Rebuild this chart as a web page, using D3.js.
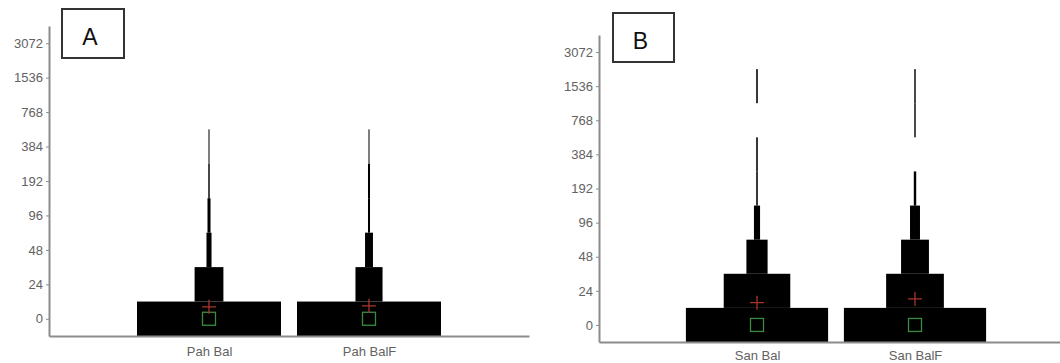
<!DOCTYPE html>
<html>
<head>
<meta charset="utf-8">
<script src="https://cdn.jsdelivr.net/npm/d3@7"></script>
<style>
  html, body { margin: 0; padding: 0; background: #fff; }
  svg { display: block; font-family: "Liberation Sans", Arial, sans-serif; }
</style>
</head>
<body>
<svg id="chart" width="1060" height="363"></svg>
<script>
// bin labels on the y axis (each bin is one band)
const tickValues = [0, 24, 48, 96, 192, 384, 768, 1536, 3072];

// panel A
const categoriesA = ["Pah Bal", "Pah BalF"];
const pahBalCounts = [1000, 200, 35, 21, 10, 7];
const pahBalFCounts = [1000, 188, 55, 14, 14, 7];
const meansA = [8.3, 9];
const mediansA = [0, 0];

// panel B
const categoriesB = ["San Bal", "San BalF"];
const sanBalCounts = [1000, 468, 149, 43, 11, 11, 0, 11];
const sanBalFCounts = [1000, 406, 196, 70, 17, 0, 10, 10];
const meansB = [15.7, 18.3];
const mediansB = [0, 0];

const svg = d3.select("#chart");

function drawPanel({ label, box, xRange, yRange, categories, counts, means, medians, labelPad }) {
  const g = svg.append("g");

  const x = d3.scaleLinear().domain([0, 3]).range(xRange);
  const yIndex = d3.scaleLinear().domain([-0.5, 8.5]).range(yRange);
  const yValue = d3.scaleLinear()
    .domain(tickValues)
    .range(tickValues.map((_, i) => yIndex(i)));

  const slot = x(1) - x(0);
  const maxCount = d3.max(counts.flat());
  const w = d3.scaleLinear().domain([0, maxCount]).range([0, 0.9 * slot]);

  // bins
  counts.forEach((series, ci) => {
    g.append("g")
      .selectAll("rect")
      .data(series.map((c, i) => ({ c, i })).filter((d) => d.c > 0))
      .join("rect")
      .attr("x", (d) => x(ci + 1) - w(d.c) / 2)
      .attr("width", (d) => w(d.c))
      .attr("y", (d) => yIndex(d.i + 0.5))
      .attr("height", (d) => yIndex(d.i - 0.5) - yIndex(d.i + 0.5))
      .attr("fill", "#000");
  });

  // medians (green squares)
  g.append("g")
    .selectAll("rect")
    .data(medians)
    .join("rect")
    .attr("x", (d, i) => x(i + 1) - 6.5)
    .attr("y", (d) => yValue(d) - 6.5)
    .attr("width", 13)
    .attr("height", 13)
    .attr("fill", "none")
    .attr("stroke", "#3a8a42")
    .attr("stroke-width", 1.3);

  // means (red plus)
  g.append("g")
    .selectAll("path")
    .data(means)
    .join("path")
    .attr("d", (d, i) => {
      const cx = x(i + 1), cy = yValue(d), r = 7;
      return `M${cx - r},${cy}H${cx + r}M${cx},${cy - r}V${cy + r}`;
    })
    .attr("stroke", "#a8352a")
    .attr("stroke-width", 1.3)
    .attr("fill", "none");

  // y axis
  const gy = g.append("g")
    .attr("transform", `translate(${xRange[0]},0)`)
    .call(d3.axisLeft(yIndex)
      .tickValues(d3.range(tickValues.length))
      .tickFormat((i) => tickValues[i])
      .tickSize(3)
      .tickSizeOuter(0)
      .tickPadding(3));

  // x axis
  const gx = g.append("g")
    .attr("transform", `translate(0,${yRange[0]})`)
    .call(d3.axisBottom(x)
      .tickValues([1, 2])
      .tickFormat((i) => categories[i - 1])
      .tickSize(0)
      .tickSizeOuter(0)
      .tickPadding(labelPad));

  [gx, gy].forEach((ax) => {
    ax.select(".domain").attr("stroke", "#8c8c8c").attr("stroke-width", 2);
    ax.selectAll(".tick line").attr("stroke", "#8c8c8c");
    ax.selectAll("text")
      .attr("fill", "#626262")
      .style("font-family", "'Liberation Sans', Arial, sans-serif")
      .style("font-size", "13px");
  });

  // panel label box
  g.append("rect")
    .attr("x", box.x)
    .attr("y", box.y)
    .attr("width", box.w)
    .attr("height", box.h)
    .attr("fill", "#fff")
    .attr("stroke", "#333")
    .attr("stroke-width", 2);

  g.append("text")
    .attr("x", box.x + box.w / 2 - 3)
    .attr("y", box.y + box.h - 13)
    .attr("text-anchor", "middle")
    .attr("fill", "#111")
    .style("font-size", "23px")
    .text(label);
}

drawPanel({
  label: "A",
  box: { x: 62, y: 9, w: 62, h: 49 },
  xRange: [49, 529],
  yRange: [336, 26],
  categories: categoriesA,
  counts: [pahBalCounts, pahBalFCounts],
  means: meansA,
  medians: mediansA,
  labelPad: 11,
});

drawPanel({
  label: "B",
  box: { x: 613, y: 13, w: 61, h: 49 },
  xRange: [599, 1073],
  yRange: [342, 35],
  categories: categoriesB,
  counts: [sanBalCounts, sanBalFCounts],
  means: meansB,
  medians: mediansB,
  labelPad: 9,
});
</script>
</body>
</html>
